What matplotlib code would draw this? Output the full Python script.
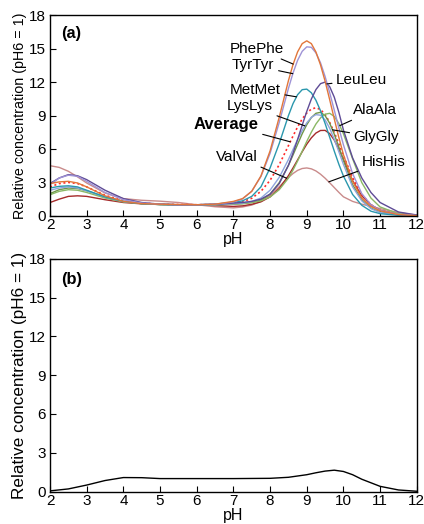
import numpy as np
import matplotlib
matplotlib.use("Agg")
import matplotlib.pyplot as plt

plt.rcParams['font.family'] = ['Liberation Sans', 'DejaVu Sans']

# pH grid the curves were read at (denser round the peaks)
ph = [2, 2.25, 2.5, 2.75, 3, 3.5, 4, 4.5, 5, 5.5, 6, 6.5, 7,
      7.25, 7.5, 7.75, 8, 8.25, 8.5,
      8.625, 8.75, 8.875, 9, 9.125, 9.25, 9.375, 9.5, 9.625, 9.75, 9.875, 10,
      10.25, 10.5, 10.75, 11, 11.5, 12]

# relative concentrations (pH6 = 1), panel (a)
phephe = [2.9, 3.05, 3.1, 2.95, 2.6, 1.8, 1.3, 1.1, 1.05, 1.02, 1.0, 1.05, 1.3,
          1.55, 2.2, 3.58, 5.83, 8.86, 12.13,
          13.57, 14.71, 15.45, 15.7, 15.45, 14.7, 13.54, 12.08, 10.42, 8.7, 7.03, 5.49,
          3.1, 1.6, 0.85, 0.45, 0.12, 0.02]
tyrtyr = [2.8, 3.4, 3.65, 3.55, 3.1, 2.1, 1.45, 1.15, 1.05, 1.0, 1.0, 1.05, 1.25,
          1.52, 2.22, 3.53, 5.61, 8.39, 11.43,
          12.81, 13.95, 14.76, 15.16, 15.12, 14.62, 13.73, 12.5, 11.05, 9.48, 7.89, 6.37,
          3.79, 2.0, 1.0, 0.5, 0.14, 0.03]
leuleu = [2.9, 3.4, 3.7, 3.6, 3.25, 2.3, 1.55, 1.2, 1.05, 1.0, 1.0, 1.05, 1.15,
          1.2, 1.3, 1.5, 1.95, 2.9, 4.53,
          5.63, 6.85, 8.13, 9.37, 10.48, 11.33, 11.86, 12.0, 11.59, 10.65, 9.29, 7.7,
          5.2, 3.4, 2.1, 1.2, 0.35, 0.08]
metmet = [2.5, 2.65, 2.7, 2.6, 2.3, 1.7, 1.3, 1.1, 1.02, 1.0, 1.0, 1.05, 1.2,
          1.35, 1.75, 2.6, 4.3, 6.5, 8.99,
          10.07, 10.87, 11.32, 11.37, 11.04, 10.37, 9.43, 8.29, 7.06, 5.81, 4.63, 3.57,
          1.92, 0.95, 0.42, 0.2, 0.05, 0.01]
lyslys = [2.3, 2.5, 2.6, 2.5, 2.25, 1.7, 1.3, 1.12, 1.05, 1.0, 1.0, 1.0, 1.1,
          1.15, 1.3, 1.6, 2.3, 3.46, 5.05,
          5.95, 6.84, 7.66, 8.35, 8.84, 9.08, 9.03, 8.61, 7.86, 6.87, 5.75, 4.61,
          2.6, 1.35, 0.65, 0.3, 0.08, 0.02]
alaala = [1.9, 2.2, 2.35, 2.3, 2.1, 1.6, 1.25, 1.1, 1.02, 1.0, 1.0, 1.0, 1.05,
          1.1, 1.2, 1.35, 1.7, 2.35, 3.39,
          4.11, 4.92, 5.8, 6.68, 7.51, 8.24, 8.79, 9.12, 9.2, 8.92, 8.28, 7.36,
          5.12, 2.99, 1.6, 0.8, 0.2, 0.04]
glygly = [2.0, 2.35, 2.5, 2.45, 2.25, 1.7, 1.3, 1.1, 1.02, 1.0, 1.0, 1.0, 1.05,
          1.1, 1.2, 1.4, 1.96, 2.98, 4.53,
          5.46, 6.42, 7.36, 8.18, 8.82, 9.2, 9.29, 8.99, 8.31, 7.33, 6.18, 4.96,
          2.79, 1.45, 0.7, 0.35, 0.1, 0.02]
average = [2.6, 2.9, 3.0, 2.9, 2.6, 1.85, 1.35, 1.15, 1.05, 1.02, 1.0, 1.02, 1.15,
           1.26, 1.58, 2.2, 3.19, 4.6, 6.3,
           7.16, 7.98, 8.69, 9.23, 9.58, 9.7, 9.54, 9.09, 8.38, 7.48, 6.46, 5.4,
           3.42, 1.9, 1.0, 0.5, 0.15, 0.03]
valval = [1.2, 1.5, 1.75, 1.8, 1.75, 1.45, 1.2, 1.08, 1.02, 1.0, 1.0, 0.93, 0.85,
          0.9, 1.04, 1.26, 1.7, 2.46, 3.61,
          4.3, 5.02, 5.75, 6.43, 7.0, 7.43, 7.66, 7.67, 7.38, 6.8, 5.99, 5.06,
          3.16, 1.8, 1.0, 0.5, 0.15, 0.03]
hishis = [4.5, 4.35, 4.0, 3.5, 2.95, 2.05, 1.55, 1.4, 1.32, 1.2, 1.0, 0.82, 0.72,
          0.8, 0.97, 1.3, 1.85, 2.62, 3.44,
          3.8, 4.08, 4.25, 4.3, 4.22, 4.03, 3.74, 3.38, 2.97, 2.54, 2.11, 1.71,
          1.3, 1.05, 0.85, 0.65, 0.3, 0.06]

# panel (b)
ph_b = [2, 2.5, 3, 3.5, 4, 4.5, 5, 6, 7, 8, 8.5, 9, 9.25, 9.5, 9.75, 10, 10.25, 10.5, 11, 11.5, 12]
curve_b = [0.05, 0.2, 0.5, 0.85, 1.08, 1.07, 1.0, 1.0, 1.0, 1.02, 1.1, 1.3, 1.45, 1.58, 1.65,
           1.55, 1.3, 0.95, 0.4, 0.12, 0.02]

names = ['PhePhe', 'TyrTyr', 'LeuLeu', 'MetMet', 'LysLys', 'AlaAla', 'GlyGly', 'Average', 'ValVal', 'HisHis']
series = [phephe, tyrtyr, leuleu, metmet, lyslys, alaala, glygly, average, valval, hishis]
colors = ['#e2763a', '#9f93d6', '#5e4b96', '#2a97ad', '#8fa5dd', '#8ab865', '#6f9548',
          '#ff2a2a', '#a52a2a', '#c98b8b']

# label text position and the pH where its pointer meets the curve
label_xy = {'PhePhe': (7.64, 15.0), 'TyrTyr': (7.54, 13.5), 'MetMet': (7.6, 11.3),
            'LysLys': (7.45, 9.85), 'Average': (6.8, 8.2), 'ValVal': (7.1, 5.3),
            'LeuLeu': (10.5, 12.2), 'AlaAla': (10.85, 9.5), 'GlyGly': (10.9, 7.05),
            'HisHis': (11.1, 4.85)}
point_ph = {'PhePhe': 8.63, 'TyrTyr': 8.62, 'MetMet': 8.72, 'LysLys': 8.95, 'Average': 8.55,
            'ValVal': 8.45, 'LeuLeu': 9.55, 'AlaAla': 9.9, 'GlyGly': 9.7, 'HisHis': 9.6}

fig = plt.figure(figsize=(4.24, 5.24), dpi=100)
ax_a = fig.add_axes([0.118, 0.588, 0.865, 0.383])
ax_b = fig.add_axes([0.118, 0.062, 0.865, 0.444])

# back to front so the tall peaks sit on top
for name, vals, col in zip(names[::-1], series[::-1], colors[::-1]):
    if name == 'Average':
        ax_a.plot(ph, vals, color=col, lw=1.2, ls=(0, (1.2, 1.6)))
    else:
        ax_a.plot(ph, vals, color=col, lw=1.0)

for name, vals in zip(names, series):
    px = point_ph[name]
    py = np.interp(px, ph, vals)
    ax_a.annotate(name, xy=(px, py), xytext=label_xy[name], ha='center', va='center',
                  fontsize=12 if name == 'Average' else 11,
                  fontweight='bold' if name == 'Average' else 'normal',
                  arrowprops=dict(arrowstyle='-', color='black', lw=0.8, shrinkA=1, shrinkB=0))

ax_b.plot(ph_b, curve_b, color='black', lw=1.0)

for ax, tag, ylab_size in [(ax_a, '(a)', 10.3), (ax_b, '(b)', 12.3)]:
    ax.set_xlim(2, 12)
    ax.set_ylim(0, 18)
    ax.set_xticks(range(2, 13))
    ax.set_yticks(range(0, 19, 3))
    ax.tick_params(direction='in', length=4, labelsize=11)
    ax.tick_params(axis='x', pad=1.5)
    ax.tick_params(axis='y', pad=3)
    ax.set_xlabel('pH', fontsize=11.5, labelpad=0)
    ax.set_ylabel('Relative concentration (pH6 = 1)', fontsize=ylab_size, labelpad=1)
    ax.text(2.59, 16.4, tag, fontsize=11.8, fontweight='bold', ha='center', va='center')
    for s in ax.spines.values():
        s.set_linewidth(1.0)

fig.savefig('out.png', dpi=100)
